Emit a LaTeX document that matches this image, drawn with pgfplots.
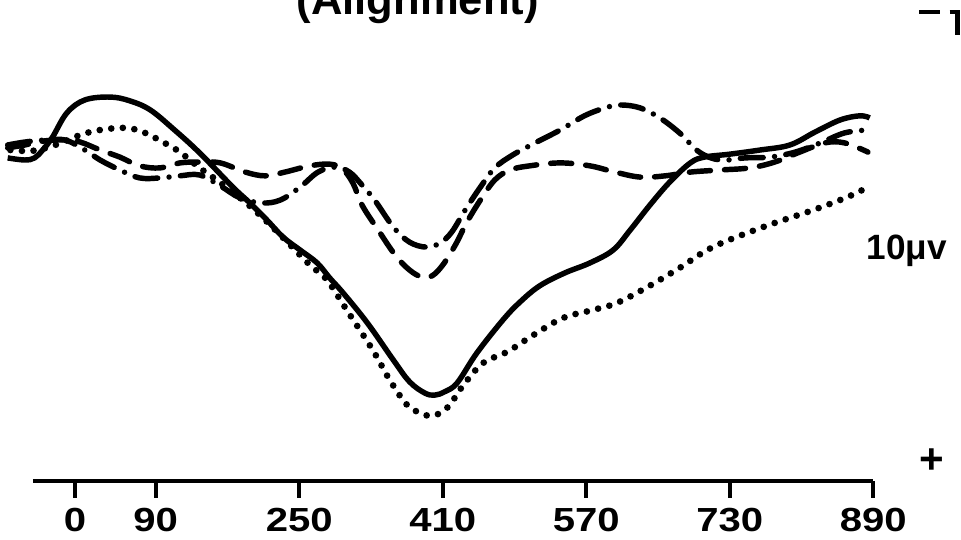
\documentclass[border=0pt]{standalone}
\usepackage{fontspec}
\setmainfont{Liberation Sans}
\newfontfamily\wide{Liberation Sans}[FakeStretch=1.2]
\usepackage{pgfplots}
\pgfplotsset{compat=1.18}
\begin{document}
\begin{tikzpicture}
\begin{axis}[
  at={(0.656cm,1.18cm)}, anchor=south west,
  scale only axis, width=16.81cm, height=9.38cm,
  xmin=-47, xmax=890, ymin=-7.94, ymax=3.31,
  clip=false,
  axis x line=bottom, axis y line=none,
  x axis line style={-, line width=2.6pt},
  xtick={0,90,250,410,570,730,890},
  xtick align=outside, major tick length=0.34cm,
  xtick style={line width=2.2pt, black},
  xticklabel style={font=\wide\bfseries\fontsize{19}{20}\selectfont, inner sep=0pt, yshift=-0.2cm},
  /pgf/number format/assume math mode=true,
  every axis plot/.append style={line width=3.1pt, smooth, tension=0.6, no marks, black},
]
% solid
\addplot[solid] coordinates {
(-75,-0.19) (-56,-0.24) (-45,-0.19) (-36,0) (-25,0.31) (-9,0.89) (11,1.20)
(39,1.27) (61,1.18) (84,0.96) (111,0.48) (139,-0.07) (176,-0.89) (195,-1.27)
(214,-1.68) (232,-2.09) (251,-2.40) (270,-2.71) (284,-3.07) (299,-3.43)
(326,-4.15) (355,-5.04) (373,-5.56) (390,-5.83) (401,-5.88) (412,-5.80)
(426,-5.59) (448,-4.87) (477,-4.08) (496,-3.65) (518,-3.26) (546,-2.95)
(574,-2.71) (600,-2.40) (619,-1.92) (641,-1.32) (663,-0.77) (686,-0.31)
(702,-0.17) (730,-0.10) (764,0) (797,0.12) (825,0.43) (853,0.72) (875,0.82) (886,0.77)};
% dotted
\addplot[line width=3.8pt, line cap=round, dash pattern=on 0pt off 6.6pt] coordinates {
(-72,0) (-47,-0.02) (-22,0.12) (6,0.36) (28,0.48) (56,0.53) (76,0.43) (98,0.19)
(117,-0.05) (139,-0.43) (158,-0.72) (187,-1.20) (212,-1.68) (240,-2.28)
(262,-2.76) (281,-3.12) (303,-3.84) (332,-4.80) (351,-5.52) (370,-6.11)
(385,-6.31) (396,-6.38) (407,-6.31) (418,-6.11) (433,-5.64) (455,-5.11)
(482,-4.84) (511,-4.44) (544,-4.03) (577,-3.84) (604,-3.67) (638,-3.29)
(674,-2.83) (711,-2.33) (767,-1.85) (823,-1.44) (861,-1.13) (884,-0.89)};
% dash-dot
\addplot[line cap=round, dash pattern=on 13pt off 6.5pt on 0pt off 6.5pt] coordinates {
(-75,0.12) (-56,0.19) (-33,0.24) (-11,0.24) (11,0) (28,-0.24) (50,-0.48)
(72,-0.67) (95,-0.67) (117,-0.62) (139,-0.60) (162,-0.86) (184,-1.15)
(208,-1.27) (229,-1.20) (251,-0.89) (271,-0.53) (290,-0.41) (306,-0.53)
(320,-0.84) (334,-1.20) (355,-1.85) (373,-2.21) (392,-2.33) (407,-2.23)
(420,-1.97) (435,-1.44) (452,-0.89) (468,-0.43) (488,-0.12) (513,0.17)
(541,0.48) (568,0.82) (591,1.01) (608,1.08) (630,1.01) (652,0.77) (674,0.41)
(696,-0.05) (719,-0.24) (747,-0.19) (775,-0.17) (803,-0.05) (831,0.17)
(858,0.41) (884,0.48)};
% dashed
\addplot[line cap=round, dash pattern=on 12pt off 8pt] coordinates {
(-75,0.05) (-56,0.12) (-33,0.22) (-11,0.24) (6,0.19) (28,0) (50,-0.17)
(72,-0.38) (95,-0.43) (117,-0.31) (139,-0.29) (162,-0.31) (190,-0.53)
(212,-0.62) (234,-0.53) (262,-0.38) (284,-0.34) (298,-0.45) (310,-0.80)
(320,-1.32) (338,-1.92) (357,-2.52) (373,-2.88) (387,-3.05) (398,-3.02)
(410,-2.76) (424,-2.28) (437,-1.73) (452,-1.20) (468,-0.72) (485,-0.48)
(507,-0.38) (541,-0.31) (574,-0.38) (602,-0.53) (630,-0.65) (658,-0.62)
(686,-0.53) (719,-0.48) (752,-0.43) (780,-0.29) (808,-0.05) (836,0.17)
(858,0.17) (884,-0.05)};
% title (top is cut by the page edge, as in the scan) and scale bar
\node[font=\bfseries\fontsize{24.8}{26}\selectfont, anchor=base] at (axis cs:382,3.26) {(Alignment)};
\node[font=\bfseries\fontsize{20}{22}\selectfont] at (axis cs:927.5,-2.42) {10μv};
\node[font=\bfseries\fontsize{24}{26}\selectfont] at (axis cs:955.4,-7.46) {+};
\draw[line width=2.6pt] (axis cs:941,3.31) -- (axis cs:964,3.31);
\draw[line width=2.6pt] (axis cs:975,3.31) -- (axis cs:984,3.31) -- (axis cs:984,2.76);
\end{axis}
\pgfresetboundingbox
\useasboundingbox (0,0) rectangle (19.22,10.8);
\end{tikzpicture}
\end{document}
